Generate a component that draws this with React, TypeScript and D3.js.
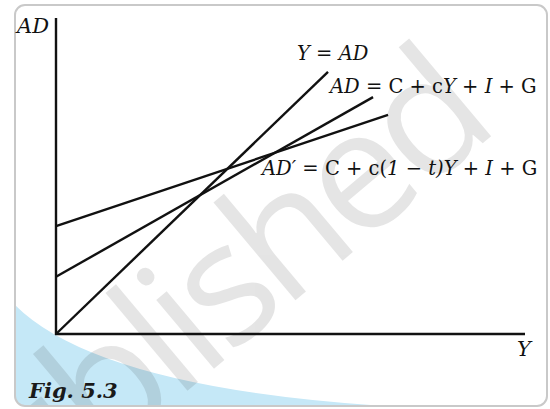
import React from "react";
import * as d3 from "d3";

// economy lines: Y = AD, AD, AD'
const lineKeys = ["yad", "ad", "adt"];
const startY = [0, 12.2, 23.0];
const endX = [58, 67.6, 70.8];
const endY = [55.9, 50.5, 46.7];

const W = 550;
const H = 409;
const origin = { x: 56, y: 334 };
const xEnd = 525;
const yTop = 18;

const App = () => {
  const x = d3.scaleLinear().domain([0, 100]).range([origin.x, xEnd]);
  const k = (xEnd - origin.x) / 100;
  const y = d3.scaleLinear().domain([0, (origin.y - yTop) / k]).range([origin.y, yTop]);

  const line = d3.line<[number, number]>().x(d => x(d[0])).y(d => y(d[1]));

  // blue corner swoosh
  const swoosh = d3.path();
  swoosh.moveTo(15, 305);
  swoosh.quadraticCurveTo(105, 395, 440, 409);
  swoosh.lineTo(15, 409);
  swoosh.closePath();

  const serif = "'DejaVu Serif', serif";
  const fs = 19.5;
  const ink = "#111";

  return (
    <svg width={W} height={H} style={{ position: "absolute", left: 0, top: 0 }}>
      <defs>
        <clipPath id="frame">
          <rect x={15} y={5} width={532} height={401} rx={10} />
        </clipPath>
      </defs>
      <rect x={0} y={0} width={W} height={H} fill="#fff" />
      <g clipPath="url(#frame)">
        <rect x={15} y={5} width={532} height={401} fill="#fff" />
        <path d={swoosh.toString()} fill="#c6e8f7" />
        <text
          x={0}
          y={0}
          transform="translate(496,132) rotate(-40)"
          textAnchor="end"
          fontFamily="'Open Sans', sans-serif"
          fontSize={168}
          letterSpacing={-8}
          fill="#000"
          opacity={0.1}
        >
          published
        </text>
      </g>
      <rect x={15} y={5} width={532} height={401} rx={10} fill="none" stroke="#c9c9c9" strokeWidth={2} />

      {/* axes */}
      <line x1={origin.x} x2={origin.x} y1={origin.y + 1} y2={yTop} stroke={ink} strokeWidth={2.4} />
      <line x1={origin.x - 1} x2={xEnd} y1={origin.y} y2={origin.y} stroke={ink} strokeWidth={2.4} />

      {lineKeys.map((key, i) => (
        <path
          key={key}
          d={line([[0, startY[i]], [endX[i], endY[i]]]) ?? ""}
          fill="none"
          stroke={ink}
          strokeWidth={2.4}
        />
      ))}

      <g fontFamily={serif} fontSize={fs} fill={ink}>
        <text x={17} y={33} fontStyle="italic" fontSize={21}>AD</text>
        <text x={517} y={356} fontStyle="italic" fontSize={21}>Y</text>

        <text x={297} y={60}>
          <tspan fontStyle="italic">Y</tspan> = <tspan fontStyle="italic">AD</tspan>
        </text>
        <text x={330} y={93}>
          <tspan fontStyle="italic">AD</tspan> = C + c<tspan fontStyle="italic">Y</tspan> +{" "}
          <tspan fontStyle="italic">I</tspan> + G
        </text>
        <text x={262} y={175}>
          <tspan fontStyle="italic">AD′</tspan> = C + c(<tspan fontStyle="italic">1</tspan> −{" "}
          <tspan fontStyle="italic">t)Y</tspan> + <tspan fontStyle="italic">I</tspan> + G
        </text>
      </g>

      <text
        x={29}
        y={398}
        fontFamily={serif}
        fontWeight="bold"
        fontStyle="italic"
        fontSize={21}
        fill="#1a1a1a"
      >
        Fig. 5.3
      </text>
    </svg>
  );
};

export default App;
